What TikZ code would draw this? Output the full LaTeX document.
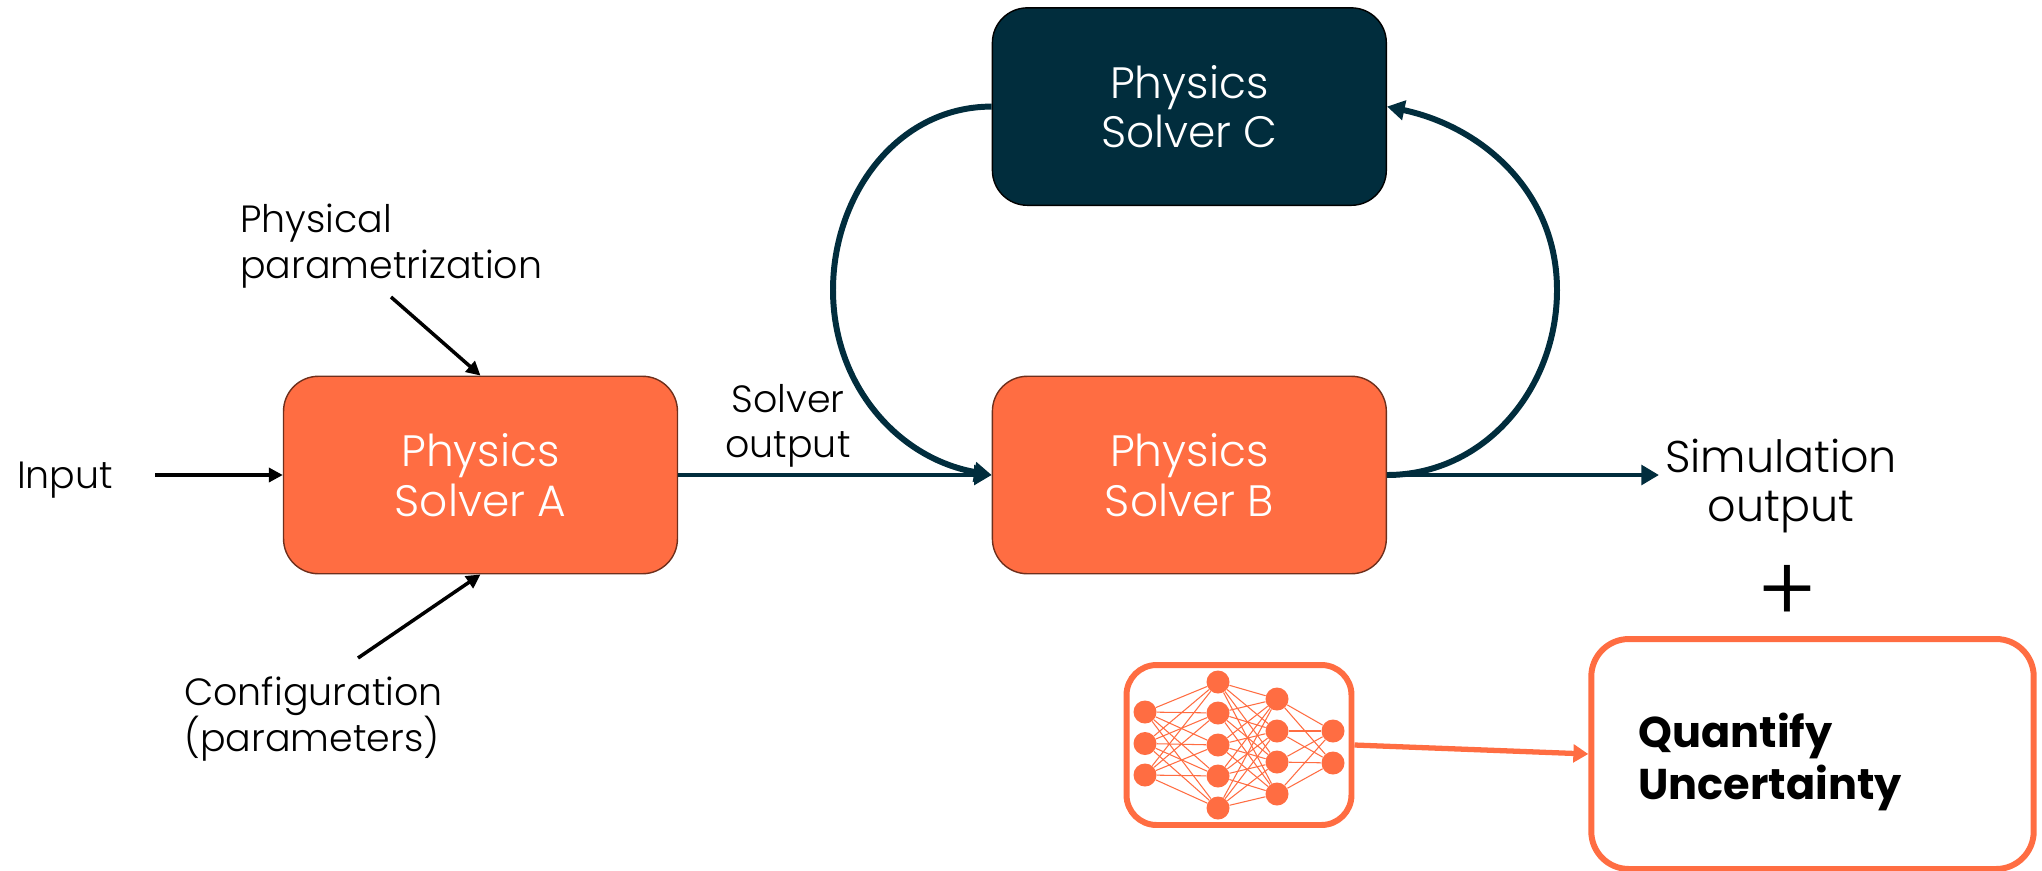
\documentclass[tikz,border=0pt]{standalone}
\usepackage{fontspec}
\setmainfont{Poppins}[UprightFont=* Light,BoldFont=* Bold]
\usetikzlibrary{arrows.meta}
\definecolor{coral}{HTML}{FF6D42}
\definecolor{coraldark}{HTML}{6E2F1C}
\definecolor{navy}{HTML}{012D3D}
\tikzset{
  solver/.style={rectangle, rounded corners=0.7cm, minimum width=7.88cm, minimum height=3.95cm, text centered, align=center, draw=coraldark, line width=0.8pt, fill=coral, text=white, font=\fontsize{25}{28.3}\selectfont},
  solverdark/.style={solver, draw=black, fill=navy},
  label/.style={inner sep=0pt, font=\fontsize{21.6}{26}\selectfont},
  outlined/.style={rectangle, rounded corners=0.75cm, draw=coral, line width=3.4pt, fill=white},
  neuron/.style={circle, fill=coral, inner sep=0pt, minimum size=0.46cm},
  synapse/.style={draw=coral, line width=0.6pt},
  arrow/.style={line width=2pt,-{Triangle[length=8pt,width=8pt]},black},
  flow/.style={line width=2.8pt,-{Triangle[length=10pt,width=11pt]},navy},
  loopflow/.style={flow, line width=3.4pt},
  uqarrow/.style={line width=3pt,-{Triangle[length=8.5pt,width=10pt]},coral}
}

\begin{document}
\begin{tikzpicture}[x=0.02cm,y=-0.02cm]
        \useasboundingbox (0,0) rectangle (2042,870);

        % Solvers
        \node (solvera) [solver] at (480.5,475) {Physics\\Solver A};
        \node (solverb) [solver, right of=solvera, node distance=14.18cm] {Physics\\Solver B};
        \node (solverc) [solverdark, above of=solverb, node distance=7.37cm] {Physics\\Solver C};

        % Labels
        \node (input) [label] at (65,480) {Input};
        \node (physical) [label, align=left, anchor=west] at (240,246) {Physical\\parametrization};
        \node (config) [label, align=left, anchor=west] at (184,719) {Configuration\\(parameters)};
        \node (solverout) [label, align=center] at (788,426) {Solver\\output};
        \node (simout) [label, align=center, font=\fontsize{25.3}{28.3}\selectfont] at (1781,486) {Simulation\\output};
        \node (plus) [label, font=\fontsize{52}{52}\selectfont] at (1787,594) {+};

        % Free ends
        \coordinate (inputend) at (155,475);
        \coordinate (physicalend) at (391,297);
        \coordinate (configend) at (358,658);
        \coordinate (simend) at (1659,475);
        \coordinate (loopleft) at (833,290);
        \coordinate (loopright) at (1557,290);

        % Uncertainty
        \node (nnbox) [outlined, rounded corners=0.6cm, minimum width=4.5cm, minimum height=3.2cm] at (1239,745) {};
        \node (quantify) [outlined, minimum width=8.85cm, minimum height=4.6cm] at (1812.5,754) {};
        \node (quantifytext) [anchor=west, inner sep=0pt, align=left, font=\fontsize{24.5}{29.5}\selectfont\bfseries] at (1638,762) {Quantify\\Uncertainty};

        % Network
        \foreach \i/\y in {1/712,2/743.5,3/775}
          \node (a\i) [neuron] at (1145,\y) {};
        \foreach \i/\y in {1/682,2/713,3/745,4/776,5/808}
          \node (b\i) [neuron] at (1218,\y) {};
        \foreach \i/\y in {1/699,2/731,3/762,4/794}
          \node (c\i) [neuron] at (1277,\y) {};
        \foreach \i/\y in {1/731,2/763}
          \node (d\i) [neuron] at (1333,\y) {};
        \foreach \i in {1,2,3}
          \foreach \j in {1,...,5}
            \draw [synapse] (a\i) -- (b\j);
        \foreach \i in {1,...,5}
          \foreach \j in {1,...,4}
            \draw [synapse] (b\i) -- (c\j);
        \foreach \i in {1,...,4}
          \foreach \j in {1,2}
            \draw [synapse] (c\i) -- (d\j);

        % Arrows
        \draw [arrow] (inputend) -- (solvera.west);
        \draw [arrow] (physicalend) -- (solvera.north);
        \draw [arrow] (configend) -- (solvera.south);
        \draw [flow] (solvera.east) -- (solverb.west);
        \draw [flow] (solverb.east) -- (simend);
        \draw [loopflow] (solverc.west) to[out=180,in=90] (loopleft) to[out=-90,in=170] (solverb.west);
        \draw [loopflow] (solverb.east) to[out=0,in=-90] (loopright) to[out=90,in=-12] (solverc.east);
        \draw [uqarrow] (nnbox.east) -- (quantify.west);
\end{tikzpicture}
\end{document}
